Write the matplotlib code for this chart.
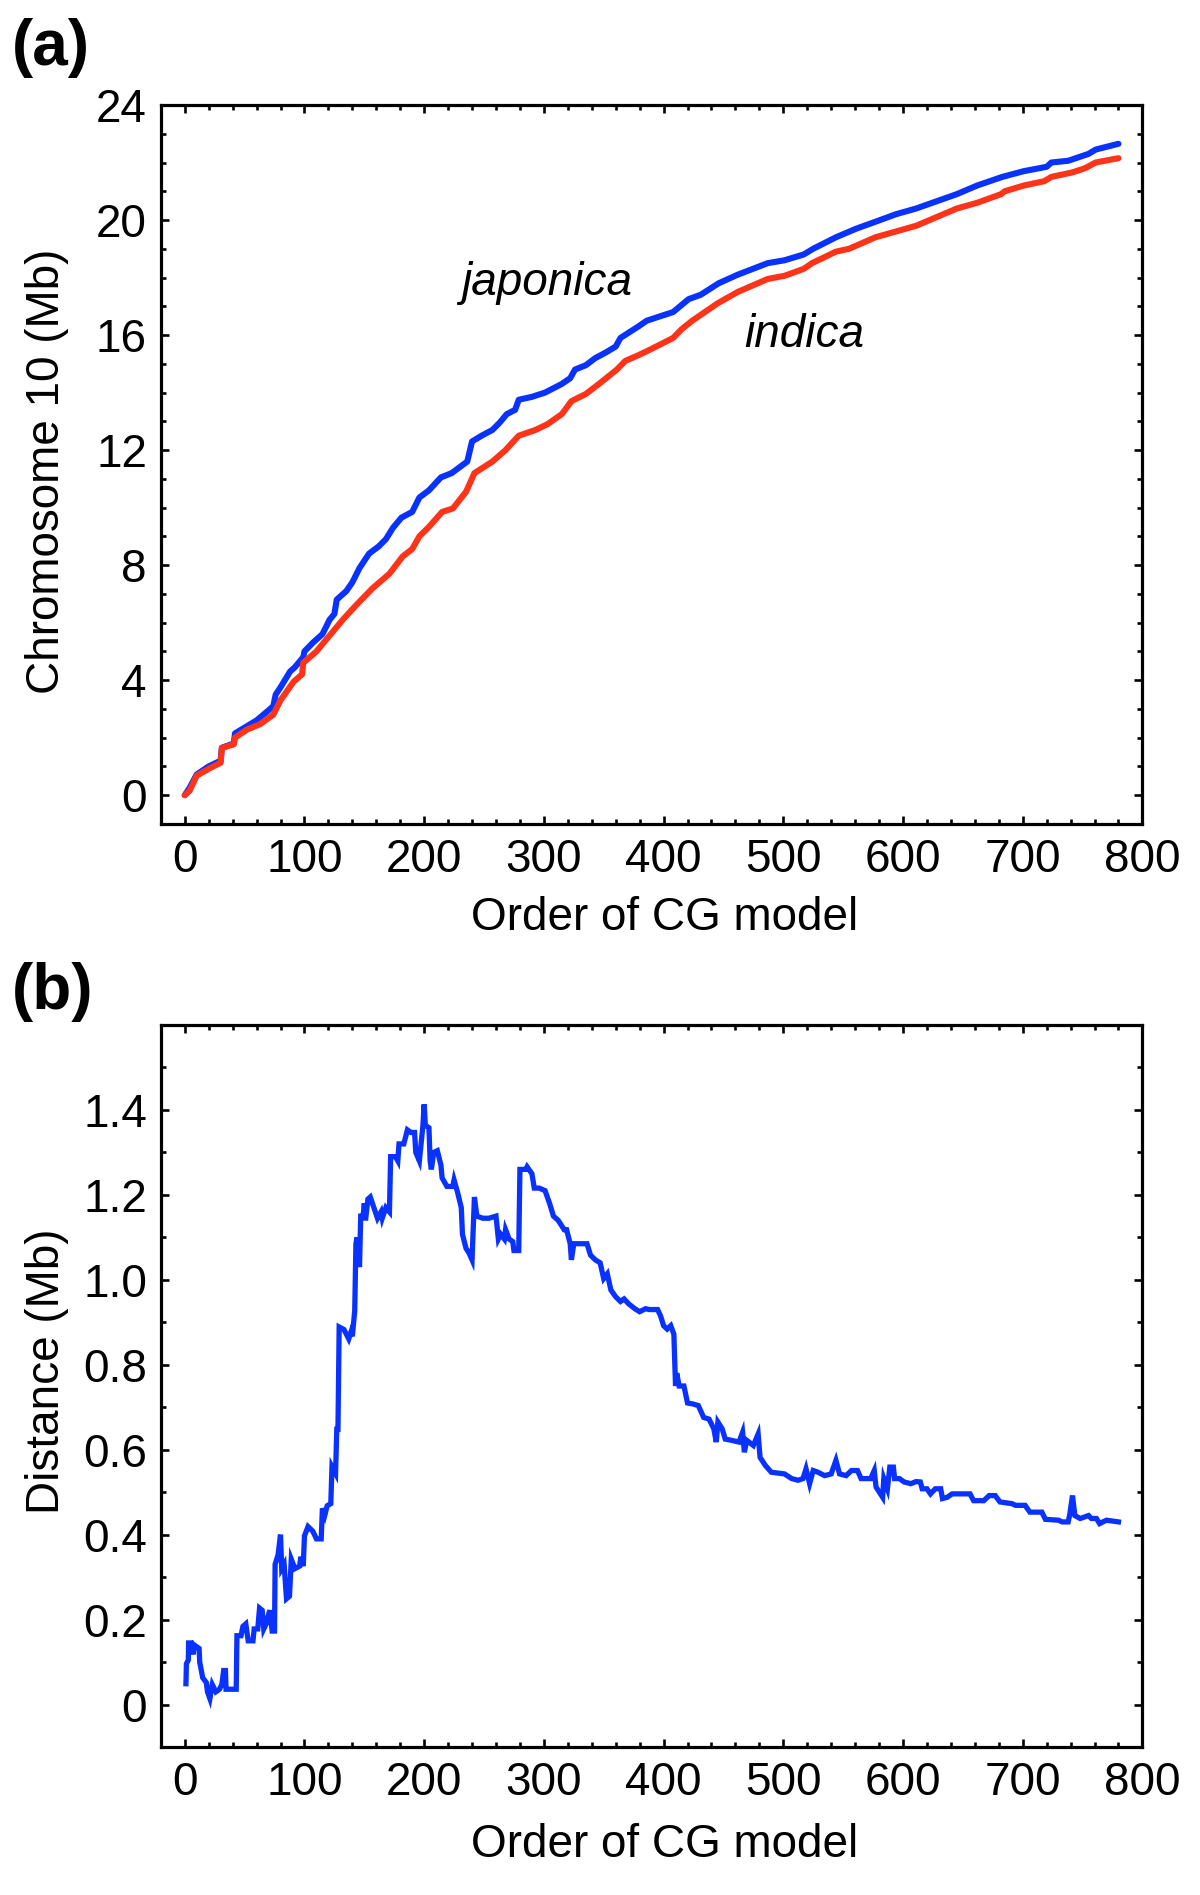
import matplotlib
matplotlib.use("Agg")
import matplotlib.pyplot as plt
from matplotlib.ticker import MultipleLocator, FuncFormatter

plt.rcParams['font.family'] = ['Liberation Sans', 'DejaVu Sans']

# ---------------- data: panel (a) ----------------
japonica_x = [0, 4, 10, 20, 30, 31, 41, 42, 50, 60, 70, 74, 76, 80, 88, 92, 99, 100,
              107, 115, 121, 125, 127, 135, 140, 146, 154, 162, 168, 174, 181, 190,
              196, 204, 214, 223, 236, 240, 248, 257, 263, 269, 276, 279, 290, 301,
              315, 322, 326, 335, 343, 352, 360, 364, 379, 386, 408, 421, 431, 446,
              462, 487, 501, 517, 525, 544, 561, 577, 594, 611, 628, 645, 662, 683,
              701, 720, 724, 738, 755, 761, 780]
japonica_y = [0.0, 0.25, 0.72, 1.0, 1.2, 1.65, 1.8, 2.15, 2.35, 2.6, 2.95, 3.1, 3.5,
              3.75, 4.3, 4.45, 4.8, 5.0, 5.3, 5.6, 6.1, 6.3, 6.8, 7.1, 7.4, 7.9, 8.4,
              8.65, 8.9, 9.3, 9.65, 9.85, 10.35, 10.6, 11.05, 11.2, 11.6, 12.3, 12.5,
              12.7, 12.95, 13.25, 13.4, 13.75, 13.85, 14.0, 14.3, 14.5, 14.8, 14.95,
              15.2, 15.4, 15.6, 15.9, 16.3, 16.5, 16.8, 17.25, 17.4, 17.8, 18.1, 18.5,
              18.6, 18.8, 19.0, 19.4, 19.7, 19.94, 20.2, 20.4, 20.65, 20.9, 21.2, 21.5,
              21.7, 21.85, 22.0, 22.06, 22.3, 22.45, 22.65]

indica_x = [0, 4, 10, 21, 30, 31, 41, 42, 52, 63, 74, 80, 91, 98, 99, 110, 124, 132,
            143, 157, 171, 182, 190, 196, 204, 215, 224, 235, 242, 257, 268, 279, 293,
            303, 315, 323, 335, 346, 361, 368, 379, 389, 408, 415, 424, 445, 462, 487,
            501, 517, 524, 544, 555, 577, 594, 611, 628, 645, 662, 682, 685, 701, 718,
            724, 741, 752, 761, 780]
indica_y = [0.0, 0.15, 0.68, 0.94, 1.13, 1.64, 1.77, 2.0, 2.28, 2.47, 2.8, 3.3, 3.95,
            4.2, 4.6, 5.0, 5.7, 6.1, 6.6, 7.2, 7.7, 8.3, 8.56, 9.0, 9.33, 9.85, 9.97,
            10.55, 11.2, 11.6, 12.0, 12.5, 12.7, 12.9, 13.25, 13.7, 13.95, 14.3, 14.8,
            15.1, 15.3, 15.5, 15.9, 16.2, 16.5, 17.1, 17.5, 17.95, 18.06, 18.3, 18.5,
            18.9, 19.0, 19.4, 19.6, 19.8, 20.1, 20.4, 20.6, 20.9, 21.0, 21.2, 21.35,
            21.5, 21.65, 21.8, 22.0, 22.15]

# ---------------- data: panel (b) ----------------
dist_x = [1, 1.4, 3, 3.2, 5.5, 7, 8, 12, 12.5, 15, 18, 19, 21, 23, 26, 29, 31, 32.5,
          34, 34.5, 43, 43.6, 47, 48.6, 51, 53, 57, 58, 61, 62.5, 64.7, 66, 68, 71, 73,
          75, 75.5, 78, 80, 81, 83, 85, 87.5, 89, 92, 96, 97, 99, 100, 103, 107, 110,
          114, 115, 117, 119, 122, 123, 126, 127, 128, 129, 133, 137, 139, 140, 142,
          143, 144, 146, 147, 149, 150, 151, 153, 155, 158, 161, 164, 165, 168, 171,
          172, 176, 178, 179, 183, 186, 189, 192, 193, 196, 199, 200, 201, 204, 205,
          206, 208, 211, 214, 215, 219, 224, 225, 228, 231, 232, 235, 237.5, 240, 242,
          244, 249, 254, 260, 262, 264, 267, 268, 271, 274, 275, 279, 280, 285, 286,
          290, 292, 296, 301, 305, 308, 312, 317, 319, 322, 323, 325, 331, 336, 339,
          343, 347, 350, 353, 356, 360, 364, 367, 371, 376, 380, 385, 388, 395, 397.5,
          400, 403, 406, 408.6, 410, 411, 413, 417, 420, 424, 429, 433.5, 438, 442, 444,
          445.4, 449, 451.5, 457, 463, 466, 467.5, 469.5, 475, 479, 480.6, 485, 490,
          501, 507, 512.4, 516.5, 519, 522, 525, 529, 534.5, 540, 544, 547, 552.5, 557,
          562, 565, 573, 576, 577.5, 583, 584, 587, 589, 592, 593, 597, 601, 606.5, 611,
          614.5, 616, 620, 623, 627, 631.5, 633, 637, 641, 656, 659, 667.5, 672, 677,
          681, 691, 694, 702, 706, 716, 719, 730, 733, 738, 739.4, 741.6, 743.6, 748,
          755, 757.4, 761.6, 764.3, 767, 770, 780]
dist_y = [0.049, 0.096, 0.105, 0.145, 0.145, 0.118, 0.14, 0.132, 0.10, 0.063, 0.052,
          0.03, 0.014, 0.047, 0.03, 0.036, 0.047, 0.08, 0.08, 0.036, 0.036, 0.162, 0.162,
          0.184, 0.19, 0.15, 0.15, 0.178, 0.178, 0.227, 0.222, 0.178, 0.19, 0.222, 0.173,
          0.173, 0.33, 0.353, 0.40, 0.32, 0.33, 0.249, 0.255, 0.342, 0.32, 0.326, 0.348,
          0.326, 0.397, 0.419, 0.408, 0.39, 0.39, 0.462, 0.446, 0.468, 0.473, 0.56,
          0.544, 0.648, 0.648, 0.889, 0.883, 0.861, 0.878, 0.867, 0.927, 1.085, 1.10,
          1.03, 1.15, 1.15, 1.18, 1.14, 1.19, 1.195, 1.17, 1.145, 1.16, 1.145, 1.17,
          1.16, 1.29, 1.29, 1.28, 1.32, 1.32, 1.353, 1.347, 1.347, 1.30, 1.28, 1.364,
          1.413, 1.364, 1.358, 1.28, 1.26, 1.30, 1.304, 1.27, 1.24, 1.22, 1.22, 1.235,
          1.205, 1.17, 1.107, 1.074, 1.063, 1.047, 1.195, 1.15, 1.145, 1.145, 1.15,
          1.096, 1.107, 1.096, 1.118, 1.096, 1.09, 1.069, 1.069, 1.26, 1.26, 1.266, 1.25,
          1.216, 1.216, 1.21, 1.178, 1.15, 1.14, 1.118, 1.118, 1.085, 1.047, 1.085,
          1.085, 1.085, 1.058, 1.047, 1.04, 1.003, 1.014, 0.976, 0.96, 0.949, 0.955,
          0.943, 0.932, 0.925, 0.932, 0.93, 0.93, 0.915, 0.892, 0.884, 0.892, 0.872,
          0.75, 0.78, 0.75, 0.75, 0.71, 0.708, 0.704, 0.676, 0.672, 0.649, 0.618, 0.665,
          0.649, 0.625, 0.622, 0.618, 0.641, 0.594, 0.622, 0.61, 0.637, 0.582, 0.563,
          0.547, 0.543, 0.532, 0.528, 0.532, 0.555, 0.52, 0.551, 0.547, 0.539, 0.543,
          0.575, 0.543, 0.539, 0.551, 0.551, 0.532, 0.532, 0.551, 0.512, 0.488, 0.532,
          0.508, 0.559, 0.559, 0.532, 0.532, 0.524, 0.52, 0.525, 0.524, 0.508, 0.508,
          0.496, 0.508, 0.508, 0.485, 0.488, 0.496, 0.496, 0.48, 0.48, 0.492, 0.492,
          0.477, 0.473, 0.469, 0.469, 0.453, 0.453, 0.436, 0.434, 0.43, 0.43, 0.449,
          0.492, 0.445, 0.438, 0.445, 0.438, 0.438, 0.426, 0.43, 0.434, 0.43]

xticks = [0, 100, 200, 300, 400, 500, 600, 700, 800]
yticks_a = [0, 4, 8, 12, 16, 20, 24]
yticks_b = [0, 0.2, 0.4, 0.6, 0.8, 1.0, 1.2, 1.4]

BLUE = '#0a32ff'
RED = '#ff3318'
FS = 33

fig = plt.figure(figsize=(12, 18.95), dpi=100)
ax1 = fig.add_axes([0.134, 0.5652, 0.818, 0.3794])
ax2 = fig.add_axes([0.134, 0.0781, 0.818, 0.381])


def style(ax):
    for s in ax.spines.values():
        s.set_linewidth(2.3)
    ax.tick_params(which='both', direction='in', top=True, right=True,
                   labelsize=FS, width=1.9, pad=10)
    ax.tick_params(which='major', length=5.5)
    ax.tick_params(which='minor', length=3.5)
    ax.set_xlim(-20, 800)
    ax.set_xticks(xticks)
    ax.xaxis.set_minor_locator(MultipleLocator(20))
    ax.set_xlabel('Order of CG model', fontsize=FS)


ax1.plot(japonica_x, japonica_y, color=BLUE, lw=4.4, solid_joinstyle='round',
         solid_capstyle='round')
ax1.plot(indica_x, indica_y, color=RED, lw=4.4, solid_joinstyle='round',
         solid_capstyle='round')
style(ax1)
ax1.set_ylim(-1, 24)
ax1.set_yticks(yticks_a)
ax1.yaxis.set_minor_locator(MultipleLocator(1))
ax1.set_ylabel('Chromosome 10 (Mb)', fontsize=FS)
ax1.text(231, 17.4, 'japonica', fontsize=FS, style='italic', ha='left', va='baseline')
ax1.text(467, 15.6, 'indica', fontsize=FS, style='italic', ha='left', va='baseline')
ax1.yaxis.set_label_coords(-0.094, 0.49)
ax1.xaxis.set_label_coords(0.513, -0.100)

ax2.plot(dist_x, dist_y, color=BLUE, lw=3.8, solid_joinstyle='miter')
style(ax2)
ax2.set_ylim(-0.1, 1.6)
ax2.set_yticks(yticks_b)
ax2.yaxis.set_minor_locator(MultipleLocator(0.1))
ax2.yaxis.set_major_formatter(FuncFormatter(lambda v, p: '0' if abs(v) < 1e-9 else f'{v:.1f}'))
ax2.set_ylabel('Distance (Mb)', fontsize=FS)
ax2.yaxis.set_label_coords(-0.094, 0.52)
ax2.xaxis.set_label_coords(0.513, -0.105)

fig.text(0.010, 1 - 18 / 1895, '(a)', fontsize=46, fontweight='bold', ha='left', va='top')
fig.text(0.010, 1 - 962 / 1895, '(b)', fontsize=46, fontweight='bold', ha='left', va='top')

fig.savefig('out.png', dpi=100)
